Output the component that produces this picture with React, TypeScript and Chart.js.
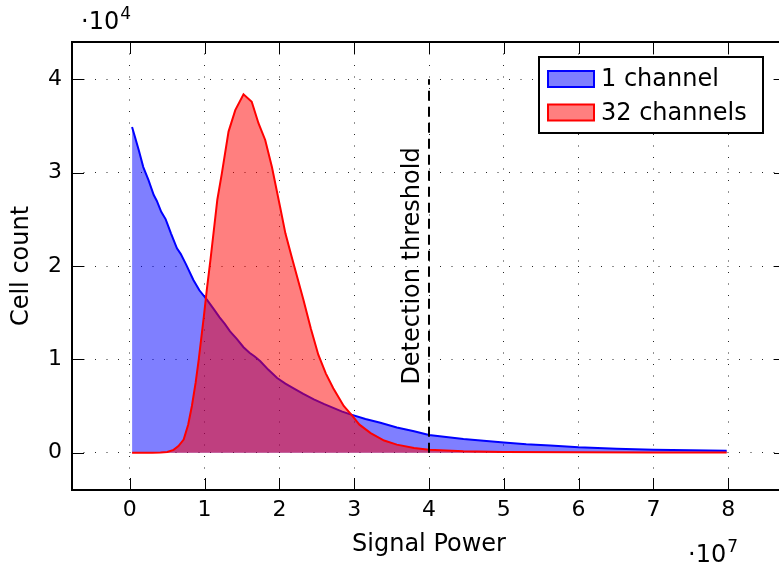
import React, { useEffect, useRef } from "react";
import { Chart, registerables } from "chart.js";

Chart.register(...registerables);

// ---- Data (x in units of 1e7, y in units of 1e4) ----
const oneChannelX = [
  0.03, 0.07, 0.12, 0.18, 0.25, 0.32, 0.36, 0.42, 0.48, 0.55, 0.63, 0.68, 0.75, 0.85, 0.93,
  1.03, 1.12, 1.2, 1.27, 1.34, 1.43, 1.52, 1.6, 1.67, 1.745, 1.85, 1.97, 2.08, 2.19, 2.32,
  2.46, 2.6, 2.72, 2.84, 2.95, 3.15, 3.35, 3.57, 3.8, 4.0, 4.2, 4.46, 4.73, 5.0, 5.3, 5.62,
  6.0, 6.51, 7.0, 7.5, 7.98,
];
const oneChannelY = [
  3.49, 3.38, 3.24, 3.06, 2.92, 2.76, 2.7, 2.58, 2.5, 2.35, 2.19, 2.13, 2.02, 1.85, 1.74,
  1.64, 1.54, 1.45, 1.38, 1.3, 1.22, 1.13, 1.07, 1.03, 0.98, 0.89, 0.8, 0.74, 0.69, 0.63,
  0.57, 0.52, 0.48, 0.44, 0.41, 0.36, 0.32, 0.27, 0.23, 0.19, 0.17, 0.147, 0.128, 0.11, 0.09, 0.078,
  0.057, 0.043, 0.032, 0.025, 0.021,
];
const thirtyTwoX = [
  0.03, 0.3, 0.41, 0.5, 0.585, 0.65, 0.72, 0.78, 0.83, 0.88, 0.92, 0.99, 1.03, 1.08, 1.17,
  1.23, 1.32, 1.41, 1.52, 1.63, 1.72, 1.81, 1.9, 2.01, 2.08, 2.17, 2.32, 2.42, 2.52, 2.62,
  2.72, 2.86, 2.97, 3.07, 3.22, 3.4, 3.57, 3.8, 4.0, 4.46, 5.0, 6.0, 7.0, 7.98,
];
const thirtyTwoY = [
  0, 0, 0.003, 0.008, 0.03, 0.07, 0.14, 0.3, 0.5, 0.75, 0.99, 1.46, 1.75, 2.08, 2.71,
  2.99, 3.44, 3.67, 3.84, 3.76, 3.53, 3.35, 3.06, 2.63, 2.35, 2.08, 1.64, 1.33, 1.05, 0.85,
  0.69, 0.5, 0.4, 0.3, 0.21, 0.13, 0.086, 0.05, 0.032, 0.014, 0.008, 0.004, 0.002, 0.001,
];
const seriesLabels = ["1 channel", "32 channels"];
const xTicks = [0, 1, 2, 3, 4, 5, 6, 7, 8];
const yTicks = [0, 1, 2, 3, 4];
const xTitle = "Signal Power";
const yTitle = "Cell count";
const xExponent = "7";
const yExponent = "4";
const thresholdX = 4;
const thresholdTop = 4;
const thresholdLabel = "Detection threshold";
const thresholdLabelX = 3.78;
const thresholdLabelY = 2.0;

const FONT = "'DejaVu Sans', sans-serif";
const BLUE = "#0000ff";
const RED = "#ff0000";
const BLUE_FILL = "rgba(0,0,255,0.5)";
const RED_FILL = "rgba(255,0,0,0.5)";

const overlayPlugin = {
  id: "overlay",
  afterDraw(chart: any) {
    const { ctx, chartArea } = chart;
    const xs = chart.scales.x;
    const ys = chart.scales.y;
    const { left, right, top, bottom } = chartArea;

    // threshold line
    ctx.save();
    ctx.strokeStyle = "#000";
    ctx.lineWidth = 2;
    ctx.setLineDash([10, 6]);
    const tx = Math.round(xs.getPixelForValue(thresholdX));
    ctx.beginPath();
    ctx.moveTo(tx, ys.getPixelForValue(0));
    ctx.lineTo(tx, ys.getPixelForValue(thresholdTop));
    ctx.stroke();
    ctx.restore();

    // threshold label
    ctx.save();
    ctx.translate(xs.getPixelForValue(thresholdLabelX), ys.getPixelForValue(thresholdLabelY));
    ctx.rotate(-Math.PI / 2);
    ctx.font = `24px ${FONT}`;
    ctx.fillStyle = "#000";
    ctx.textAlign = "center";
    ctx.textBaseline = "middle";
    ctx.fillText(thresholdLabel, 0, 0);
    ctx.restore();

    // ticks (inside, all four sides)
    ctx.save();
    ctx.strokeStyle = "#000";
    ctx.lineWidth = 1;
    const tl = 12;
    ctx.beginPath();
    xTicks.forEach((v) => {
      const p = Math.round(xs.getPixelForValue(v)) + 0.5;
      ctx.moveTo(p, bottom);
      ctx.lineTo(p, bottom - tl);
      ctx.moveTo(p, top);
      ctx.lineTo(p, top + tl);
    });
    yTicks.forEach((v) => {
      const p = Math.round(ys.getPixelForValue(v)) + 0.5;
      ctx.moveTo(left, p);
      ctx.lineTo(left + tl, p);
      ctx.moveTo(right, p);
      ctx.lineTo(right - tl, p);
    });
    ctx.stroke();
    ctx.restore();

    // frame
    ctx.save();
    ctx.strokeStyle = "#000";
    ctx.lineWidth = 2;
    ctx.strokeRect(left, top, right - left, bottom - top);
    ctx.restore();

    // legend
    ctx.save();
    const bx = right - 247;
    const by = top + 15;
    const bw = 224;
    const bh = 76;
    ctx.fillStyle = "#fff";
    ctx.fillRect(bx, by, bw, bh);
    ctx.strokeStyle = "#000";
    ctx.lineWidth = 2;
    ctx.strokeRect(bx, by, bw, bh);
    const entries = [
      { label: seriesLabels[0], fill: BLUE_FILL, stroke: BLUE },
      { label: seriesLabels[1], fill: RED_FILL, stroke: RED },
    ];
    entries.forEach((e, i) => {
      const cy = by + 22 + i * 33.5;
      ctx.fillStyle = e.fill;
      ctx.fillRect(bx + 9, cy - 8, 46, 16);
      ctx.strokeStyle = e.stroke;
      ctx.lineWidth = 2;
      ctx.strokeRect(bx + 9, cy - 8, 46, 16);
      ctx.fillStyle = "#000";
      ctx.font = `24px ${FONT}`;
      ctx.textAlign = "left";
      ctx.textBaseline = "middle";
      ctx.fillText(e.label, bx + 62, cy + 1);
    });
    ctx.restore();

    // offset (exponent) texts
    ctx.save();
    ctx.fillStyle = "#000";
    ctx.textAlign = "left";
    ctx.textBaseline = "alphabetic";
    ctx.font = `24px ${FONT}`;
    const w1 = ctx.measureText("\u00b710").width;
    ctx.fillText("\u00b710", left + 9, 29);
    ctx.font = `17px ${FONT}`;
    ctx.fillText(yExponent, left + 9 + w1 + 1, 19);
    ctx.font = `24px ${FONT}`;
    const w2 = ctx.measureText("\u00b710").width;
    ctx.fillText("\u00b710", 688, 562);
    ctx.font = `17px ${FONT}`;
    ctx.fillText(xExponent, 688 + w2 + 1, 552);
    ctx.restore();
  },
};

export default function App() {
  const canvasRef = useRef<HTMLCanvasElement | null>(null);

  useEffect(() => {
    const canvas = canvasRef.current;
    if (!canvas) return;
    const blueData = oneChannelX.map((x, i) => ({ x, y: oneChannelY[i] }));
    const redData = thirtyTwoX.map((x, i) => ({ x, y: thirtyTwoY[i] }));
    const gridCommon = {
      color: "rgba(0,0,0,0.85)",
      lineWidth: 1,
      drawTicks: false,
      drawOnChartArea: true,
    };
    const chart = new Chart(canvas, {
      type: "line",
      data: {
        datasets: [
          {
            label: seriesLabels[0],
            data: blueData,
            borderColor: BLUE,
            backgroundColor: BLUE_FILL,
            borderWidth: 2,
            fill: "origin",
            pointRadius: 0,
            tension: 0,
            order: 1,
          },
          {
            label: seriesLabels[1],
            data: redData,
            borderColor: RED,
            backgroundColor: RED_FILL,
            borderWidth: 2,
            fill: "origin",
            pointRadius: 0,
            tension: 0,
            order: 0,
          },
        ],
      },
      options: {
        animation: false,
        responsive: false,
        maintainAspectRatio: false,
        devicePixelRatio: 1,
        layout: { padding: { left: 0, top: 42, right: 14, bottom: 0 } },
        plugins: {
          legend: { display: false },
          tooltip: { enabled: false },
        },
        scales: {
          x: {
            type: "linear",
            min: -0.773,
            max: 8.773,
            z: 1,
            afterBuildTicks: (s: any) => {
              s.ticks = xTicks.map((v) => ({ value: v }));
            },
            afterFit: (s: any) => {
              s.height = 76;
            },
            grid: gridCommon,
            border: { display: false, dash: [1, 10.5] },
            ticks: {
              padding: 7,
              color: "#000",
              font: { family: FONT, size: 22 },
              maxRotation: 0,
              autoSkip: false,
              callback: (v: any) => String(v),
            },
            title: {
              display: true,
              text: xTitle,
              color: "#000",
              font: { family: FONT, size: 24 },
              padding: { top: 0, bottom: 7 },
            },
          },
          y: {
            type: "linear",
            min: -0.4,
            max: 4.4,
            z: 1,
            afterBuildTicks: (s: any) => {
              s.ticks = yTicks.map((v) => ({ value: v }));
            },
            afterFit: (s: any) => {
              s.width = 72;
            },
            grid: gridCommon,
            border: { display: false, dash: [1, 10.5] },
            ticks: {
              padding: 10,
              color: "#000",
              font: { family: FONT, size: 22 },
              autoSkip: false,
              callback: (v: any) => String(v),
            },
            title: {
              display: true,
              text: yTitle,
              color: "#000",
              font: { family: FONT, size: 24 },
              padding: { top: 7, bottom: 0 },
            },
          },
        },
      },
      plugins: [overlayPlugin],
    });
    return () => chart.destroy();
  }, []);

  return (
    <div
      style={{
        position: "fixed",
        left: 0,
        top: 0,
        width: 779,
        height: 566,
        overflow: "hidden",
        background: "#fff",
      }}
    >
      <canvas
        ref={canvasRef}
        width={800}
        height={566}
        style={{ display: "block", width: 800, height: 566 }}
      />
    </div>
  );
}
